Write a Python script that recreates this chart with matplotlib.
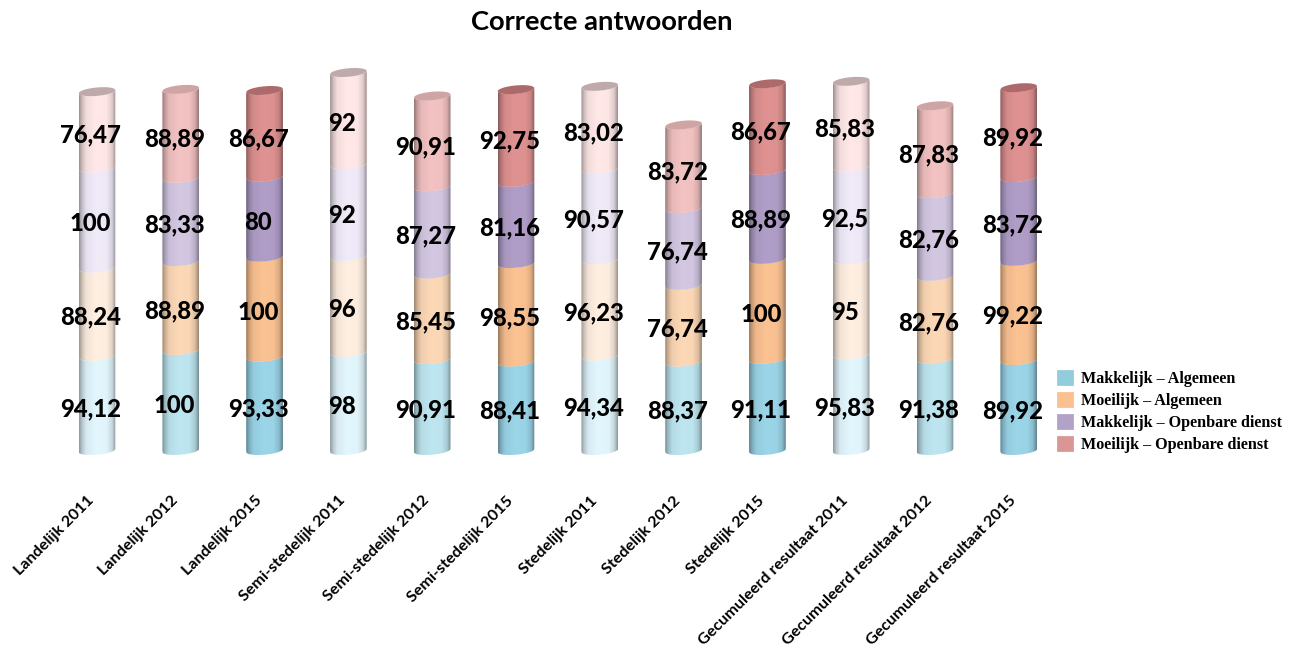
import numpy as np
import matplotlib
matplotlib.use("Agg")
import matplotlib.pyplot as plt
from matplotlib.patches import Polygon, Patch
from matplotlib.transforms import ScaledTranslation

categories = ["Landelijk 2011", "Landelijk 2012", "Landelijk 2015",
              "Semi-stedelijk 2011", "Semi-stedelijk 2012", "Semi-stedelijk 2015",
              "Stedelijk 2011", "Stedelijk 2012", "Stedelijk 2015",
              "Gecumuleerd resultaat 2011", "Gecumuleerd resultaat 2012", "Gecumuleerd resultaat 2015"]
makkelijk_algemeen = [94.12, 100, 93.33, 98, 90.91, 88.41, 94.34, 88.37, 91.11, 95.83, 91.38, 89.92]
moeilijk_algemeen = [88.24, 88.89, 100, 96, 85.45, 98.55, 96.23, 76.74, 100, 95, 82.76, 99.22]
makkelijk_openbaar = [100, 83.33, 80, 92, 87.27, 81.16, 90.57, 76.74, 88.89, 92.5, 82.76, 83.72]
moeilijk_openbaar = [76.47, 88.89, 86.67, 92, 90.91, 92.75, 83.02, 83.72, 86.67, 85.83, 87.83, 89.92]
series = [makkelijk_algemeen, moeilijk_algemeen, makkelijk_openbaar, moeilijk_openbaar]
series_names = ["Makkelijk – Algemeen", "Moeilijk – Algemeen",
                "Makkelijk – Openbare dienst", "Moeilijk – Openbare dienst"]
# intensity per category: 0 = palest (2011), 1 = medium (2012), 2 = full (2015)
shade_levels = [0, 1, 2] * 4

palette = [
    [(226, 246, 253), (190, 230, 241), (155, 213, 232)],
    [(255, 239, 225), (252, 216, 182), (251, 194, 146)],
    [(241, 235, 249), (211, 199, 226), (176, 158, 200)],
    [(255, 232, 231), (243, 194, 194), (224, 146, 146)],
]
top_colors = [(190, 170, 170), (206, 164, 164), (172, 106, 106)]
legend_colors = ["#92CDDC", "#FAC090", "#B2A2C7", "#D99694"]

W, H = 1298, 651
BASE_PX = 450.5
STEP_PX = 83.8
C0_PX = 97.0
fig = plt.figure(figsize=(W / 100, H / 100), dpi=100, facecolor="white")
ax = fig.add_axes([0, (H - BASE_PX) / H, 1, BASE_PX / H])
ax.set_facecolor("none")
for s in ax.spines.values():
    s.set_visible(False)

halfw = 18.3 / STEP_PX
sag = 4.2
tilt = 1.6
u = np.linspace(-1, 1, 60)
arc = np.sqrt(1 - u ** 2)
grad_u = np.linspace(-1, 1, 72)
profile = np.interp(grad_u, [-1, -0.85, -0.62, -0.1, 0.5, 0.8, 1],
                    [0.62, 0.80, 0.95, 1.0, 0.99, 0.88, 0.62])

x = np.arange(len(categories))
bottom = np.zeros(len(categories))
for si, vals in enumerate(series):
    vals = np.array(vals)
    bars = ax.bar(x, vals, width=2 * halfw, bottom=bottom, zorder=2 + si * 0.1,
                  color=[np.array(palette[si][l]) / 255 for l in shade_levels], linewidth=0)
    for i, b in enumerate(bars):
        y0, y1 = b.get_y(), b.get_y() + b.get_height()
        px = x[i] + u * halfw
        low = y0 + tilt * u - sag * arc
        up = y1 + tilt * u - sag * arc
        poly = Polygon(np.vstack([np.c_[px, low], np.c_[px[::-1], up[::-1]]]),
                       closed=True, transform=ax.transData, fc="none", ec="none")
        ax.add_patch(poly)
        b.set_clip_path(poly)
        b.set_clip_box(fig.bbox)
        col = np.array(palette[si][shade_levels[i]]) / 255
        img = np.clip(col[None, None, :] * profile[None, :, None], 0, 1)
        im = ax.imshow(img, extent=[x[i] - halfw, x[i] + halfw, y0 - 8, y1 + 8], aspect="auto",
                       interpolation="bilinear", zorder=2 + si * 0.1 + 0.01)
        im.set_clip_path(poly)
        im.set_clip_box(fig.bbox)
        ax.annotate(f"{vals[i]:g}".replace(".", ","), (x[i], (y0 + y1) / 2), xytext=(-4.7, -3.6),
                    textcoords="offset points", ha="center", va="center", fontsize=17.2,
                    fontweight=900, family="Lato", color="black", zorder=10,
                    annotation_clip=False)
    bottom = bottom + vals

# top caps of the cylinders
for i, top in enumerate(bottom):
    px = x[i] + u * halfw
    lo = top + tilt * u - sag * arc
    hi = top + tilt * u + sag * arc
    ax.add_patch(Polygon(np.vstack([np.c_[px, lo], np.c_[px[::-1], hi[::-1]]]), closed=True,
                         fc=np.array(top_colors[shade_levels[i]]) / 255, ec="none", zorder=5))

ax.set_xlim(-C0_PX / STEP_PX, (W - C0_PX) / STEP_PX)
ax.set_ylim(0, BASE_PX)
ax.set_yticks([])
ax.set_xticks(x)
ax.set_xticklabels(categories, rotation=45, ha="right", rotation_mode="anchor",
                   fontsize=11.6, fontweight="bold", family="Lato")
ax.tick_params(axis="x", length=0, pad=31)
shift = ScaledTranslation(-10 / 100, 0, fig.dpi_scale_trans)
for lab in ax.get_xticklabels():
    lab.set_transform(lab.get_transform() + shift)

fig.text(601.5 / W, 1 - 21.5 / H, "Correcte antwoorden", ha="center", va="center",
         fontsize=19.7, fontweight="bold", family="Lato")

handles = [Patch(facecolor=c, edgecolor=c, linewidth=2, joinstyle="round") for c in legend_colors]
leg = fig.legend(handles, series_names, loc="center left", bbox_to_anchor=(1043.5 / W, 1 - 412 / H),
                 frameon=False, prop={"family": "Liberation Serif", "weight": "bold", "size": 11.6},
                 handlelength=0.85, handleheight=0.8, handletextpad=0.6, labelspacing=0.37, borderpad=0.4)

fig.savefig("out.png", dpi=100, facecolor="white")
